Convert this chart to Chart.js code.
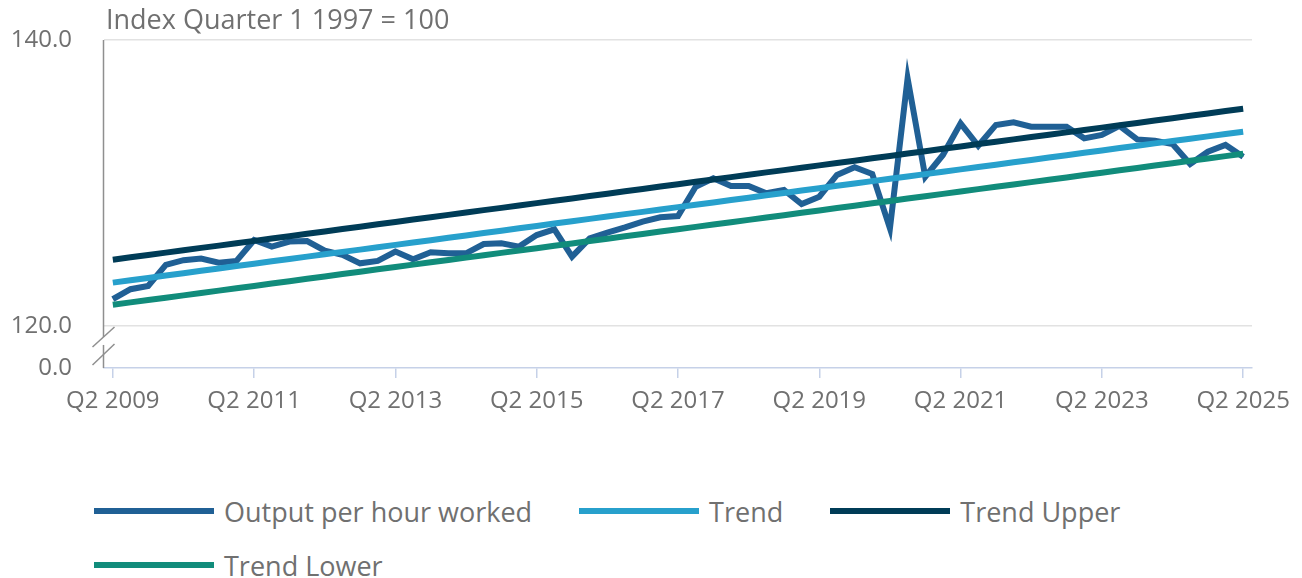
<!DOCTYPE html>
<html>
<head>
<meta charset="utf-8">
<script src="https://cdn.jsdelivr.net/npm/chart.js@4.4.1/dist/chart.umd.min.js"></script>
<style>
  html, body { margin: 0; padding: 0; background: #ffffff; }
  #wrap { position: relative; width: 1302px; height: 578px; overflow: hidden; font-family: "Open Sans", sans-serif; }
  #c { position: absolute; left: 0; top: 0; }
  #legend { position: absolute; left: 94px; top: 484px; width: 1180px; display: flex; flex-wrap: wrap; column-gap: 47px; }
  .item { display: flex; align-items: center; height: 54px; }
  .sw { width: 120px; height: 6px; margin-right: 10px; }
  .lt { font-size: 27px; color: #707070; white-space: nowrap; }
</style>
</head>
<body>
<div id="wrap">
  <canvas id="c" width="1302" height="480"></canvas>
  <div id="legend"></div>
</div>
<script>
const quarters = [
  "Q2 2009","Q3 2009","Q4 2009","Q1 2010","Q2 2010","Q3 2010","Q4 2010","Q1 2011",
  "Q2 2011","Q3 2011","Q4 2011","Q1 2012","Q2 2012","Q3 2012","Q4 2012","Q1 2013",
  "Q2 2013","Q3 2013","Q4 2013","Q1 2014","Q2 2014","Q3 2014","Q4 2014","Q1 2015",
  "Q2 2015","Q3 2015","Q4 2015","Q1 2016","Q2 2016","Q3 2016","Q4 2016","Q1 2017",
  "Q2 2017","Q3 2017","Q4 2017","Q1 2018","Q2 2018","Q3 2018","Q4 2018","Q1 2019",
  "Q2 2019","Q3 2019","Q4 2019","Q1 2020","Q2 2020","Q3 2020","Q4 2020","Q1 2021",
  "Q2 2021","Q3 2021","Q4 2021","Q1 2022","Q2 2022","Q3 2022","Q4 2022","Q1 2023",
  "Q2 2023","Q3 2023","Q4 2023","Q1 2024","Q2 2024","Q3 2024","Q4 2024","Q1 2025",
  "Q2 2025"
];
const xTickLabels = ["Q2 2009","Q2 2011","Q2 2013","Q2 2015","Q2 2017","Q2 2019","Q2 2021","Q2 2023","Q2 2025"];

const outputPerHour = [
  121.87,122.57,122.80,124.27,124.60,124.71,124.43,124.55,
  126.01,125.55,125.90,125.94,125.27,124.97,124.38,124.55,
  125.20,124.66,125.15,125.08,125.08,125.73,125.78,125.55,
  126.36,126.76,124.85,126.13,126.53,126.90,127.30,127.60,
  127.69,129.74,130.33,129.79,129.79,129.28,129.51,128.53,
  129.04,130.56,131.10,130.63,126.83,137.32,130.44,131.96,
  134.17,132.60,134.06,134.24,133.94,133.94,133.94,133.12,
  133.36,133.99,133.05,132.96,132.73,131.33,132.19,132.66,
  131.84
];
const trend = [
  123.03,123.20,123.36,123.53,123.69,123.86,124.02,124.19,
  124.35,124.52,124.68,124.85,125.01,125.18,125.34,125.51,
  125.67,125.84,126.00,126.17,126.33,126.50,126.66,126.83,
  126.99,127.16,127.32,127.49,127.65,127.82,127.98,128.15,
  128.31,128.48,128.64,128.81,128.97,129.14,129.30,129.47,
  129.63,129.80,129.96,130.13,130.29,130.46,130.62,130.79,
  130.95,131.12,131.28,131.45,131.61,131.78,131.94,132.11,
  132.27,132.44,132.60,132.77,132.93,133.10,133.26,133.43,
  133.59
];
const trendUpper = [
  124.63,124.80,124.96,125.13,125.29,125.46,125.62,125.79,
  125.95,126.12,126.28,126.45,126.61,126.78,126.94,127.11,
  127.27,127.44,127.60,127.77,127.93,128.10,128.26,128.43,
  128.59,128.76,128.92,129.09,129.25,129.42,129.58,129.75,
  129.91,130.08,130.24,130.41,130.57,130.74,130.90,131.07,
  131.23,131.40,131.56,131.73,131.89,132.06,132.22,132.39,
  132.55,132.72,132.88,133.05,133.21,133.38,133.54,133.71,
  133.87,134.04,134.20,134.37,134.53,134.70,134.86,135.03,
  135.19
];
const trendLower = [
  121.48,121.65,121.81,121.98,122.14,122.31,122.47,122.64,
  122.80,122.97,123.13,123.30,123.46,123.63,123.79,123.96,
  124.12,124.29,124.45,124.62,124.78,124.95,125.11,125.28,
  125.44,125.61,125.77,125.94,126.10,126.27,126.43,126.60,
  126.76,126.93,127.09,127.26,127.42,127.59,127.75,127.92,
  128.08,128.25,128.41,128.58,128.74,128.91,129.07,129.24,
  129.40,129.57,129.73,129.90,130.06,130.23,130.39,130.56,
  130.72,130.89,131.05,131.22,131.38,131.55,131.71,131.88,
  132.04
];
const yBreakValue = 117.06;           // position where the "0.0" label sits after the axis break
const yTickValues = [yBreakValue, 120, 140];
const yTickLabels = ["0.0", "120.0", "140.0"];
const titleText = "Index Quarter 1 1997 = 100";

const series = [
  { label: "Output per hour worked", data: outputPerHour, color: "#206095", order: 1 },
  { label: "Trend", data: trend, color: "#27a0cc", order: 0 },
  { label: "Trend Upper", data: trendUpper, color: "#003c57", order: 0 },
  { label: "Trend Lower", data: trendLower, color: "#118c7b", order: 0 }
];

const TXT = "#707070";
const FONT = "'Open Sans', sans-serif";

const titlePlugin = {
  id: "titleText",
  afterDraw(chart) {
    const ctx = chart.ctx;
    ctx.save();
    ctx.font = "27px " + FONT;
    ctx.fillStyle = TXT;
    ctx.textAlign = "left";
    ctx.textBaseline = "middle";
    ctx.fillText(titleText, 106, 21);
    ctx.restore();
  }
};

const breakPlugin = {
  id: "axisBreak",
  afterDraw(chart) {
    const ctx = chart.ctx;
    const area = chart.chartArea;
    const x = area.left - 0.5;
    const y120 = chart.scales.y.getPixelForValue(120);
    ctx.save();
    ctx.strokeStyle = "#8f8f8f";
    ctx.lineWidth = 1.5;
    ctx.beginPath(); ctx.moveTo(x, area.top); ctx.lineTo(x, y120 + 11); ctx.stroke();
    ctx.beginPath(); ctx.moveTo(x, y120 + 19); ctx.lineTo(x, area.bottom); ctx.stroke();
    ctx.beginPath(); ctx.moveTo(x - 11, y120 + 21); ctx.lineTo(x + 11, y120 + 1); ctx.stroke();
    ctx.beginPath(); ctx.moveTo(x - 11, y120 + 39); ctx.lineTo(x + 11, y120 + 18); ctx.stroke();
    ctx.restore();
  }
};

new Chart(document.getElementById("c"), {
  type: "line",
  data: {
    labels: quarters,
    datasets: series.map(s => ({
      label: s.label,
      data: s.data,
      borderColor: s.color,
      backgroundColor: s.color,
      borderWidth: 6,
      pointRadius: 0,
      tension: 0,
      fill: false,
      order: s.order,
      borderJoinStyle: "miter"
    }))
  },
  options: {
    responsive: false,
    animation: false,
    devicePixelRatio: 1,
    layout: { padding: { top: 40, right: 50, left: 0, bottom: 0 } },
    plugins: { legend: { display: false }, tooltip: { enabled: false } },
    scales: {
      x: {
        type: "category",
        offset: true,
        afterBuildTicks(scale) {
          scale.ticks = scale.ticks.filter(t => xTickLabels.includes(quarters[t.value]));
        },
        afterFit(scale) { scale.height = 480 - 368; },
        grid: { drawOnChartArea: false, drawTicks: true, tickLength: 10, color: "#c6d1e8", lineWidth: 1.5, offset: false },
        border: { display: true, color: "#c6d1e8", width: 1.5 },
        ticks: {
          autoSkip: false, maxRotation: 0, minRotation: 0, padding: 9,
          color: TXT, font: { family: FONT, size: 24 },
          callback(v) { return quarters[v]; }
        }
      },
      y: {
        type: "linear",
        min: yBreakValue,
        max: 140,
        afterBuildTicks(scale) { scale.ticks = yTickValues.map(v => ({ value: v })); },
        afterFit(scale) { scale.width = 104; scale.paddingTop = 0; scale.paddingBottom = 0; },
        grid: {
          drawTicks: false,
          lineWidth: 1.5,
          color(ctx) { return (ctx.tick && ctx.tick.value === yBreakValue) ? "rgba(0,0,0,0)" : "#e2e2e2"; }
        },
        border: { display: false },
        ticks: {
          padding: 32, color: TXT, font: { family: FONT, size: 24 },
          callback(v) { const i = yTickValues.indexOf(v); return i >= 0 ? yTickLabels[i] : ""; }
        }
      }
    }
  },
  plugins: [titlePlugin, breakPlugin]
});

const legend = document.getElementById("legend");
series.forEach(s => {
  const it = document.createElement("div");
  it.className = "item";
  const sw = document.createElement("div");
  sw.className = "sw";
  sw.style.background = s.color;
  const t = document.createElement("span");
  t.className = "lt";
  t.textContent = s.label;
  it.appendChild(sw); it.appendChild(t);
  legend.appendChild(it);
});
</script>
</body>
</html>
